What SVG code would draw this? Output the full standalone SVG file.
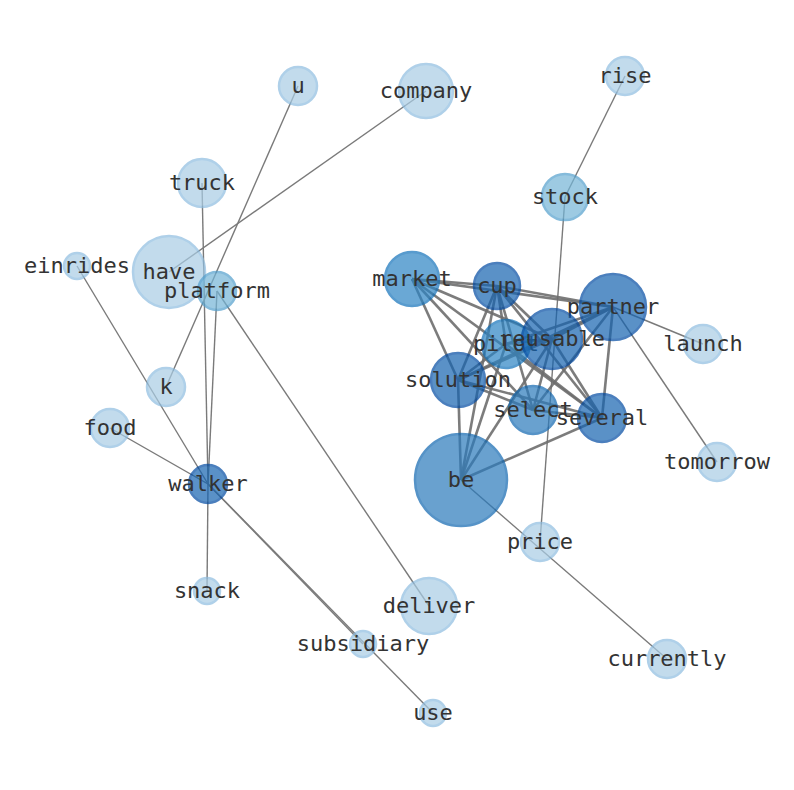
<svg xmlns="http://www.w3.org/2000/svg" width="794" height="790" viewBox="0 0 794 790">
<style>
.e{stroke:#7a7a7a;stroke-width:1.4;fill:none}
.c{stroke:#6e6e6e;stroke-width:2.6;fill:none;stroke-opacity:0.9}
circle{opacity:0.7;stroke-width:2.5}
.l{fill:#a9cde5;stroke:#8ebde0}
.m{fill:#74b5d7;stroke:#529fcd}
.d{fill:#1563b0;stroke:#004aa2}
.d2{fill:#2a7abc;stroke:#0f66b0}
.d3{fill:#2c84c4;stroke:#1272ba}
text{font-family:"DejaVu Sans Mono",monospace;font-size:22px;fill:#333;text-anchor:middle;dominant-baseline:central}
</style>
<rect width="794" height="790" fill="#fff"/>
<g id="edges">
<line class="e" x1="298" y1="86" x2="166" y2="387"/>
<line class="e" x1="426" y1="91" x2="169" y2="272"/>
<line class="e" x1="625" y1="76" x2="565" y2="197"/>
<line class="e" x1="565" y1="197" x2="540" y2="542"/>
<line class="e" x1="202" y1="183" x2="208" y2="484"/>
<line class="e" x1="217" y1="291" x2="208" y2="484"/>
<line class="e" x1="217" y1="291" x2="429" y2="606"/>
<line class="e" x1="77" y1="266" x2="208" y2="484"/>
<line class="e" x1="110" y1="428" x2="208" y2="484"/>
<line class="e" x1="208" y1="484" x2="207" y2="591"/>
<line class="e" x1="208" y1="484" x2="363" y2="644"/>
<line class="e" x1="208" y1="484" x2="433" y2="713"/>
<line class="e" x1="613" y1="307" x2="703" y2="344"/>
<line class="e" x1="613" y1="307" x2="717" y2="462"/>
<line class="e" x1="461" y1="480" x2="667" y2="659"/>
<line class="c" x1="412" y1="279" x2="497" y2="286"/>
<line class="c" x1="412" y1="279" x2="613" y2="307"/>
<line class="c" x1="412" y1="279" x2="552" y2="339"/>
<line class="c" x1="412" y1="279" x2="533" y2="410"/>
<line class="c" x1="412" y1="279" x2="602" y2="418"/>
<line class="c" x1="412" y1="279" x2="458" y2="380"/>
<line class="c" x1="497" y1="286" x2="613" y2="307"/>
<line class="c" x1="497" y1="286" x2="552" y2="339"/>
<line class="c" x1="497" y1="286" x2="506" y2="344"/>
<line class="c" x1="497" y1="286" x2="458" y2="380"/>
<line class="c" x1="497" y1="286" x2="533" y2="410"/>
<line class="c" x1="497" y1="286" x2="602" y2="418"/>
<line class="c" x1="497" y1="286" x2="461" y2="480"/>
<line class="c" x1="613" y1="307" x2="552" y2="339"/>
<line class="c" x1="613" y1="307" x2="506" y2="344"/>
<line class="c" x1="613" y1="307" x2="458" y2="380"/>
<line class="c" x1="613" y1="307" x2="602" y2="418"/>
<line class="c" x1="613" y1="307" x2="533" y2="410"/>
<line class="c" x1="552" y1="339" x2="506" y2="344"/>
<line class="c" x1="552" y1="339" x2="458" y2="380"/>
<line class="c" x1="552" y1="339" x2="533" y2="410"/>
<line class="c" x1="552" y1="339" x2="602" y2="418"/>
<line class="c" x1="552" y1="339" x2="461" y2="480"/>
<line class="c" x1="506" y1="344" x2="458" y2="380"/>
<line class="c" x1="506" y1="344" x2="461" y2="480"/>
<line class="c" x1="506" y1="344" x2="602" y2="418"/>
<line class="c" x1="458" y1="380" x2="533" y2="410"/>
<line class="c" x1="458" y1="380" x2="602" y2="418"/>
<line class="c" x1="458" y1="380" x2="461" y2="480"/>
<line class="c" x1="533" y1="410" x2="602" y2="418"/>
<line class="c" x1="602" y1="418" x2="461" y2="480"/>
</g>
<g id="n-u"><circle class="l" cx="298" cy="86" r="19"/><text x="298" y="85">u</text></g>
<g id="n-company"><circle class="l" cx="426" cy="91" r="27"/><text x="426" y="90">company</text></g>
<g id="n-rise"><circle class="l" cx="625" cy="76" r="19"/><text x="625" y="75">rise</text></g>
<g id="n-truck"><circle class="l" cx="202" cy="183" r="24"/><text x="202" y="182">truck</text></g>
<g id="n-stock"><circle class="m" cx="565" cy="197" r="23"/><text x="565" y="196">stock</text></g>
<g id="n-have"><circle class="l" cx="169" cy="272" r="36"/><text x="169" y="271">have</text></g>
<g id="n-einrides"><circle class="l" cx="77" cy="266" r="13"/><text x="77" y="265">einrides</text></g>
<g id="n-platform"><circle class="m" cx="217" cy="291" r="19"/><text x="217" y="290">platform</text></g>
<g id="n-market"><circle class="d3" cx="412" cy="279" r="27"/><text x="412" y="278">market</text></g>
<g id="n-cup"><circle class="d" cx="497" cy="286" r="23"/><text x="497" y="285">cup</text></g>
<g id="n-partner"><circle class="d" cx="613" cy="307" r="33"/><text x="613" y="306">partner</text></g>
<g id="n-pilot"><circle class="d3" cx="506" cy="344" r="24"/><text x="506" y="343">pilot</text></g>
<g id="n-reusable"><circle class="d" cx="552" cy="339" r="30"/><text x="552" y="338">reusable</text></g>
<g id="n-launch"><circle class="l" cx="703" cy="344" r="19"/><text x="703" y="343">launch</text></g>
<g id="n-k"><circle class="l" cx="166" cy="387" r="19"/><text x="166" y="386">k</text></g>
<g id="n-solution"><circle class="d" cx="458" cy="380" r="27"/><text x="458" y="379">solution</text></g>
<g id="n-several"><circle class="d" cx="602" cy="418" r="24"/><text x="602" y="417">several</text></g>
<g id="n-select"><circle class="d2" cx="533" cy="410" r="24"/><text x="533" y="409">select</text></g>
<g id="n-food"><circle class="l" cx="110" cy="428" r="19"/><text x="110" y="427">food</text></g>
<g id="n-tomorrow"><circle class="l" cx="717" cy="462" r="19"/><text x="717" y="461">tomorrow</text></g>
<g id="n-walker"><circle class="d" cx="208" cy="484" r="19"/><text x="208" y="483">walker</text></g>
<g id="n-be"><circle class="d2" cx="461" cy="480" r="46"/><text x="461" y="479">be</text></g>
<g id="n-price"><circle class="l" cx="540" cy="542" r="19"/><text x="540" y="541">price</text></g>
<g id="n-snack"><circle class="l" cx="207" cy="591" r="13"/><text x="207" y="590">snack</text></g>
<g id="n-deliver"><circle class="l" cx="429" cy="606" r="28"/><text x="429" y="605">deliver</text></g>
<g id="n-subsidiary"><circle class="l" cx="363" cy="644" r="13"/><text x="363" y="643">subsidiary</text></g>
<g id="n-currently"><circle class="l" cx="667" cy="659" r="19"/><text x="667" y="658">currently</text></g>
<g id="n-use"><circle class="l" cx="433" cy="713" r="13"/><text x="433" y="712">use</text></g>
</svg>
